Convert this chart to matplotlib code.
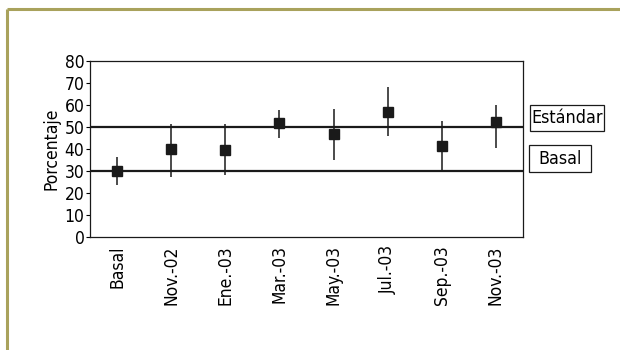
import matplotlib
matplotlib.use("Agg")
import matplotlib.pyplot as plt
from matplotlib.lines import Line2D
from matplotlib.patches import Rectangle

# Data
categories = ["Basal", "Nov.-02", "Ene.-03", "Mar.-03", "May.-03", "Jul.-03", "Sep.-03", "Nov.-03"]
values = [30.0, 40.0, 39.5, 52.0, 47.0, 57.0, 41.5, 52.3]
err_low = [23.5, 27.5, 28.0, 45.0, 35.0, 46.0, 30.0, 40.5]
err_high = [36.5, 51.5, 51.5, 57.5, 58.0, 68.0, 52.5, 60.0]
standard_level = 50
basal_level = 30
y_ticks = [0, 10, 20, 30, 40, 50, 60, 70, 80]

plt.rcParams["font.family"] = ["DejaVu Sans"]
plt.rcParams["font.stretch"] = "condensed"

W, H = 620, 350
fig = plt.figure(figsize=(W / 100, H / 100), dpi=100)
fig.patch.set_facecolor("white")


def px(x0, y0):
    """Pixel position (from top-left) to figure fraction."""
    return x0 / W, 1 - y0 / H


# Olive frame on the top and left edges
border_color = "#a9a25c"
fig.add_artist(Line2D([6.5 / W, 1.0], [1 - 8.5 / H, 1 - 8.5 / H], color=border_color, lw=2.2,
                      transform=fig.transFigure, solid_capstyle="butt"))
fig.add_artist(Line2D([6.5 / W, 6.5 / W], [0.0, 1 - 8.5 / H], color=border_color, lw=2.2,
                      transform=fig.transFigure, solid_capstyle="butt"))

left, right, top, bottom = 90, 523, 61, 237
ax = fig.add_axes([left / W, 1 - bottom / H, (right - left) / W, (bottom - top) / H])

x = list(range(len(categories)))
lower = [v - lo for v, lo in zip(values, err_low)]
upper = [hi - v for v, hi in zip(values, err_high)]

ax.axhline(standard_level, color="#1a1a1a", lw=1.6, zorder=1)
ax.axhline(basal_level, color="#1a1a1a", lw=1.6, zorder=1)
ax.errorbar(x, values, yerr=[lower, upper], fmt="s", color="#1a1a1a", ms=6.5,
            elinewidth=1.1, capsize=0, zorder=3)

fs = 12.5
ax.set_xlim(-0.5, len(categories) - 0.5)
ax.set_ylim(0, 80)
ax.set_yticks(y_ticks)
ax.set_yticklabels([str(t) for t in y_ticks], fontsize=fs)
ax.set_xticks(x)
ax.set_xticklabels(categories, rotation=90, fontsize=fs, va="top", ha="center")
ax.tick_params(axis="x", length=0, pad=6)
ax.tick_params(axis="y", length=3, width=0.8, pad=1, direction="out")
for s in ax.spines.values():
    s.set_linewidth(0.9)
    s.set_color("#1a1a1a")

ax.set_ylabel("Porcentaje", fontsize=fs, labelpad=3)

# Boxed labels for the two reference lines
boxes = [("Estándar", 530, 105, 604, 131), ("Basal", 529, 145, 591, 172)]
for label, x0, y0, x1, y1 in boxes:
    bx, by = px(x0, y1)
    fig.add_artist(Rectangle((bx, by), (x1 - x0) / W, (y1 - y0) / H, transform=fig.transFigure,
                             facecolor="white", edgecolor="#1a1a1a", lw=0.9))
    cx, cy = px((x0 + x1) / 2, (y0 + y1) / 2)
    fig.text(cx, cy, label, fontsize=12.8, ha="center", va="center")

fig.savefig("out.png", dpi=100, facecolor="white")
